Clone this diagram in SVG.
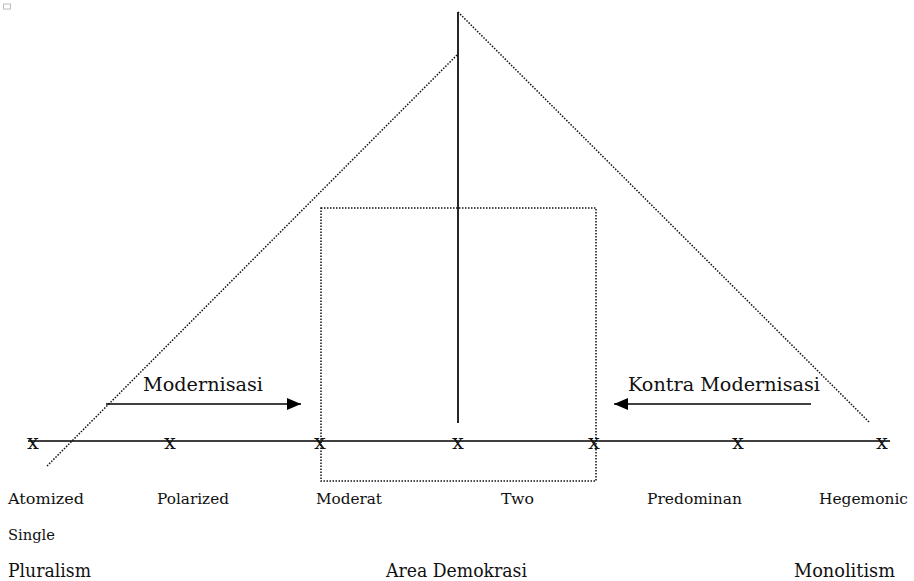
<svg xmlns="http://www.w3.org/2000/svg" width="914" height="581" viewBox="0 0 914 581">
<defs>
<style>
.t{font-family:"DejaVu Serif","Liberation Serif",serif;fill:#111;}
.s{font-size:15.5px;}
.m{font-size:18px;}
.l{font-size:19px;}
.x{font-size:21px;text-anchor:middle;}
.dot{fill:none;stroke:#111;stroke-width:1.5;stroke-dasharray:1.5 1.5;}
.solid{fill:none;stroke:#000;stroke-width:1.7;}
</style>
<marker id="ah" viewBox="0 0 14 12" refX="14" refY="6" markerWidth="14" markerHeight="12" markerUnits="userSpaceOnUse" orient="auto">
<path d="M0,0 L14,6 L0,12 Z" fill="#000"/>
</marker>
</defs>
<rect x="0" y="0" width="914" height="581" fill="#fff"/>
<rect x="3.5" y="4" width="7" height="5" fill="none" stroke="#bbb" stroke-width="1"/>
<g id="connectors">
<line class="solid" x1="458" y1="12" x2="458" y2="423"/>
<line class="dot" x1="458" y1="12" x2="870" y2="423"/>
<line class="dot" x1="457" y1="55" x2="47" y2="466"/>
<line class="solid" x1="28" y1="441" x2="890" y2="441"/>
<rect class="dot" x="321" y="208" width="275" height="273"/>
<line class="solid" x1="106" y1="404" x2="301" y2="404" marker-end="url(#ah)"/>
<line class="solid" x1="811" y1="404" x2="614" y2="404" marker-end="url(#ah)"/>
</g>
<g id="marks">
<text class="t x" x="33" y="449">x</text>
<text class="t x" x="170" y="449">x</text>
<text class="t x" x="320" y="449">x</text>
<text class="t x" x="458" y="449">x</text>
<text class="t x" x="594" y="449">x</text>
<text class="t x" x="738" y="449">x</text>
<text class="t x" x="882" y="449">x</text>
</g>
<g id="arrow-labels">
<text class="t l" x="143" y="391" textLength="120" lengthAdjust="spacingAndGlyphs">Modernisasi</text>
<text class="t l" x="628" y="391" textLength="192" lengthAdjust="spacingAndGlyphs">Kontra Modernisasi</text>
</g>
<g id="system-labels">
<text class="t s" x="8" y="504" textLength="76" lengthAdjust="spacingAndGlyphs">Atomized</text>
<text class="t s" x="157" y="504" textLength="72" lengthAdjust="spacingAndGlyphs">Polarized</text>
<text class="t s" x="316" y="504" textLength="66" lengthAdjust="spacingAndGlyphs">Moderat</text>
<text class="t s" x="501" y="504" textLength="33" lengthAdjust="spacingAndGlyphs">Two</text>
<text class="t s" x="647" y="504" textLength="95" lengthAdjust="spacingAndGlyphs">Predominan</text>
<text class="t s" x="819" y="504" textLength="89" lengthAdjust="spacingAndGlyphs">Hegemonic</text>
<text class="t s" x="8" y="540" textLength="47" lengthAdjust="spacingAndGlyphs">Single</text>
</g>
<g id="area-labels">
<text class="t m" x="8" y="577" textLength="83" lengthAdjust="spacingAndGlyphs">Pluralism</text>
<text class="t m" x="386" y="577" textLength="141" lengthAdjust="spacingAndGlyphs">Area Demokrasi</text>
<text class="t m" x="794" y="577" textLength="101" lengthAdjust="spacingAndGlyphs">Monolitism</text>
</g>
</svg>
